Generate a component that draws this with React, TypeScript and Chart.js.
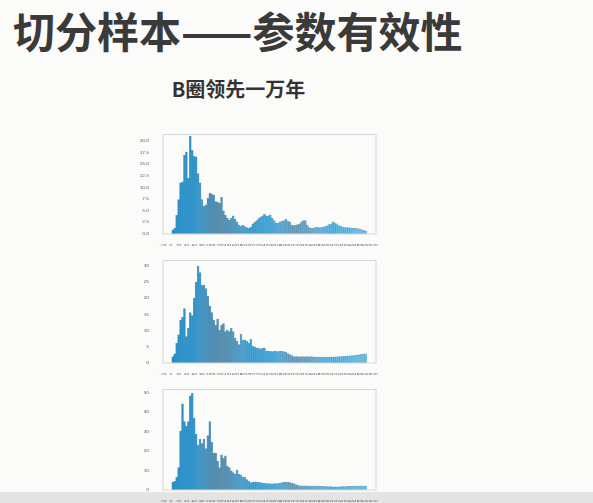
import { useEffect, useRef } from 'react'
import { Chart, registerables } from 'chart.js'

Chart.register(...registerables)

// bin centres shared by the three panels
const xBins = [
  5, 10, 15, 20, 25, 30, 35, 40, 45, 50, 55, 60, 65, 70, 75, 80, 85, 90, 95, 100,
  105, 110, 115, 120, 125, 130, 135, 140, 145, 150, 155, 160, 165, 170, 175, 180, 185, 190, 195, 200,
  205, 210, 215, 220, 225, 230, 235, 240, 245, 250, 255, 260, 265, 270, 275, 280, 285, 290, 295, 300,
  305, 310, 315, 320, 325, 330, 335, 340, 345, 350, 355, 360, 365, 370, 375, 380, 385, 390, 395, 400,
  405, 410, 415, 420, 425, 430, 435, 440, 445, 450, 455, 460, 465, 470, 475, 480, 485, 490, 495, 500,
]

const panelTop = [
  0.9, 1.3, 4.0, 7.4, 11.0, 11.2, 17.0, 17.6, 12.0, 21.0, 18.0, 16.7, 16.6, 13.0, 11.0, 7.4, 6.0, 6.3, 7.7, 8.8,
  8.6, 8.4, 7.0, 6.8, 6.6, 7.9, 5.0, 4.0, 3.5, 3.0, 3.4, 3.9, 3.2, 2.6, 1.9, 1.7, 1.9, 1.6, 1.4, 1.2,
  1.5, 2.2, 2.5, 2.9, 3.3, 3.6, 3.9, 4.3, 3.9, 3.9, 4.1, 3.4, 2.9, 2.4, 2.3, 2.6, 2.7, 2.9, 3.2, 2.8,
  2.6, 1.9, 1.8, 1.9, 2.0, 2.2, 2.6, 2.9, 2.9, 1.9, 1.4, 1.3, 1.2, 1.4, 1.5, 1.4, 1.4, 1.5, 1.6, 1.7,
  2.0, 2.1, 2.6, 2.4, 2.2, 1.8, 1.7, 1.5, 1.4, 1.4, 1.4, 1.3, 1.2, 1.2, 1.2, 1.1, 1.1, 0.9, 0.8, 0.6,
]

const panelMiddle = [
  2.0, 2.8, 6.2, 8.7, 13.2, 14.2, 16.8, 8.2, 10.7, 15.6, 14.7, 20.1, 25.0, 30.0, 28.0, 24.0, 24.0, 23.0, 20.6, 17.6,
  15.6, 13.2, 11.7, 13.7, 10.2, 11.7, 12.2, 9.7, 10.2, 9.7, 10.7, 9.7, 7.7, 6.8, 5.7, 8.9, 7.0, 7.2, 6.7, 6.2,
  7.3, 5.2, 5.0, 4.7, 4.5, 4.3, 4.5, 4.7, 3.8, 3.6, 3.6, 3.5, 3.6, 3.6, 3.5, 3.6, 3.6, 3.5, 3.3, 2.9,
  2.6, 2.3, 2.0, 2.0, 2.0, 1.9, 2.0, 2.0, 1.9, 2.0, 1.9, 2.0, 1.9, 1.8, 1.8, 1.8, 1.8, 1.8, 1.8, 1.8,
  1.8, 1.8, 1.8, 1.9, 1.9, 2.0, 2.0, 2.0, 2.1, 2.1, 2.2, 2.2, 2.3, 2.3, 2.4, 2.5, 2.6, 2.7, 2.8, 2.8,
]

const panelBottom = [
  4.1, 4.4, 6.5, 11.5, 30.3, 44.3, 35.2, 32.8, 35.2, 48.4, 49.7, 36.9, 28.7, 23.0, 26.2, 23.8, 26.2, 21.3, 27.9, 35.2,
  24.6, 18.9, 18.9, 14.8, 11.5, 18.0, 16.4, 17.5, 12.3, 11.5, 9.8, 9.0, 8.2, 10.3, 8.2, 7.7, 6.6, 6.6, 5.4, 4.4,
  3.8, 4.1, 4.2, 4.1, 3.9, 3.8, 3.6, 3.5, 3.3, 3.3, 3.3, 3.2, 3.3, 3.3, 3.3, 3.4, 3.8, 4.0, 4.1, 4.0,
  3.8, 3.5, 3.3, 2.8, 2.5, 2.2, 2.1, 2.1, 2.2, 2.1, 2.0, 2.0, 2.0, 2.0, 2.1, 2.0, 1.9, 1.9, 1.8, 1.8,
  1.7, 1.7, 1.6, 1.6, 1.6, 1.6, 1.7, 1.7, 1.8, 1.8, 1.9, 1.9, 2.0, 2.0, 2.0, 2.0, 2.1, 2.0, 2.0, 2.0,
]

const xTicks = [
  -20, 0, 20, 40, 60, 80, 100, 120, 140, 160, 180, 200, 220, 240, 260,
  280, 300, 320, 340, 360, 380, 400, 420, 440, 460, 480, 500, 520,
]
const yTicksTop = [0, 2.5, 5, 7.5, 10, 12.5, 15, 17.5, 20]
const yTicksMiddle = [0, 5, 10, 15, 20, 25, 30]
const yTicksBottom = [0, 10, 20, 30, 40, 50]

// light grey box round the plot area, like the matplotlib spines
const framePlugin = {
  id: 'frame',
  afterDraw(chart: any) {
    const { ctx, chartArea: a } = chart
    ctx.save()
    ctx.strokeStyle = '#d6d6d6'
    ctx.lineWidth = 1
    ctx.strokeRect(a.left, a.top, a.right - a.left, a.bottom - a.top)
    ctx.restore()
  },
}

function barColor(ctx: any) {
  const x = ctx.raw ? ctx.raw.x : 0
  const t = Math.min(1, Math.max(0, x / 500))
  const r = Math.round(40 + (110 - 40) * t)
  const g = Math.round(140 + (195 - 140) * t)
  const b = Math.round(195 + (235 - 195) * t)
  return `rgb(${r}, ${g}, ${b})`
}

interface PanelProps {
  values: number[]
  yTicks: number[]
  yMax: number
  decimals: number
  top: number
  height: number
}

function Panel({ values, yTicks, yMax, decimals, top, height }: PanelProps) {
  const canvasRef = useRef<HTMLCanvasElement>(null)

  useEffect(() => {
    if (!canvasRef.current) return
    const chart = new Chart(canvasRef.current, {
      type: 'bar',
      data: {
        datasets: [{
          data: xBins.map((x, i) => ({ x, y: values[i] })),
          backgroundColor: barColor,
          borderColor: 'rgba(30, 70, 100, 0.5)',
          borderWidth: 0.5,
          barPercentage: 1,
          categoryPercentage: 1,
        }],
      },
      options: {
        animation: false,
        responsive: true,
        maintainAspectRatio: false,
        layout: { padding: { top: 4, right: 9, left: 0, bottom: 0 } },
        plugins: { legend: { display: false }, tooltip: { enabled: false } },
        scales: {
          x: {
            type: 'linear',
            offset: false,
            min: -20,
            max: 526,
            grid: { display: false },
            border: { display: false },
            afterBuildTicks: (s: any) => { s.ticks = xTicks.map((v) => ({ value: v })) },
            afterFit: (s: any) => { s.height = 12 },
            ticks: {
              autoSkip: false,
              maxRotation: 0,
              minRotation: 0,
              padding: 1,
              color: '#555',
              font: { size: 4.2, family: 'DejaVu Sans' },
            },
          },
          y: {
            min: 0,
            max: yMax,
            grid: { display: false },
            border: { display: false },
            afterBuildTicks: (s: any) => { s.ticks = yTicks.map((v) => ({ value: v })) },
            afterFit: (s: any) => { s.width = 23 },
            ticks: {
              padding: 6,
              color: '#555',
              font: { size: 4.2, family: 'DejaVu Sans' },
              callback: (v: any) => Number(v).toFixed(decimals),
            },
          },
        },
      },
      plugins: [framePlugin],
    })
    return () => chart.destroy()
  }, [])

  return (
    <div style={{ position: 'absolute', left: 140, top, width: 245, height }}>
      <canvas ref={canvasRef}></canvas>
    </div>
  )
}

export default function App() {
  return (
    <div style={{
      position: 'fixed', left: 0, top: 0, width: 593, height: 503, overflow: 'hidden',
      background: '#fbfbfa', fontFamily: '"Noto Sans CJK SC", sans-serif',
    }}>
      <div style={{
        position: 'absolute', left: 13, top: 5, fontSize: 42, fontWeight: 700,
        color: '#3a3a3a', lineHeight: '50px', whiteSpace: 'nowrap',
      }}>切分样本——参数有效性</div>
      <div style={{
        position: 'absolute', left: 0, width: 477, top: 75, textAlign: 'center', fontSize: 20,
        fontWeight: 700, color: '#333', lineHeight: '28px', whiteSpace: 'nowrap',
      }}>B圈领先一万年</div>
      <div style={{ position: 'absolute', left: 0, top: 492, width: 593, height: 11, background: '#e4e4e4' }}></div>
      <Panel values={panelTop} yTicks={yTicksTop} yMax={21.4} decimals={1} top={126} height={120} />
      <Panel values={panelMiddle} yTicks={yTicksMiddle} yMax={31.7} decimals={0} top={252} height={123} />
      <Panel values={panelBottom} yTicks={yTicksBottom} yMax={51.6} decimals={0} top={381} height={121} />
    </div>
  )
}
